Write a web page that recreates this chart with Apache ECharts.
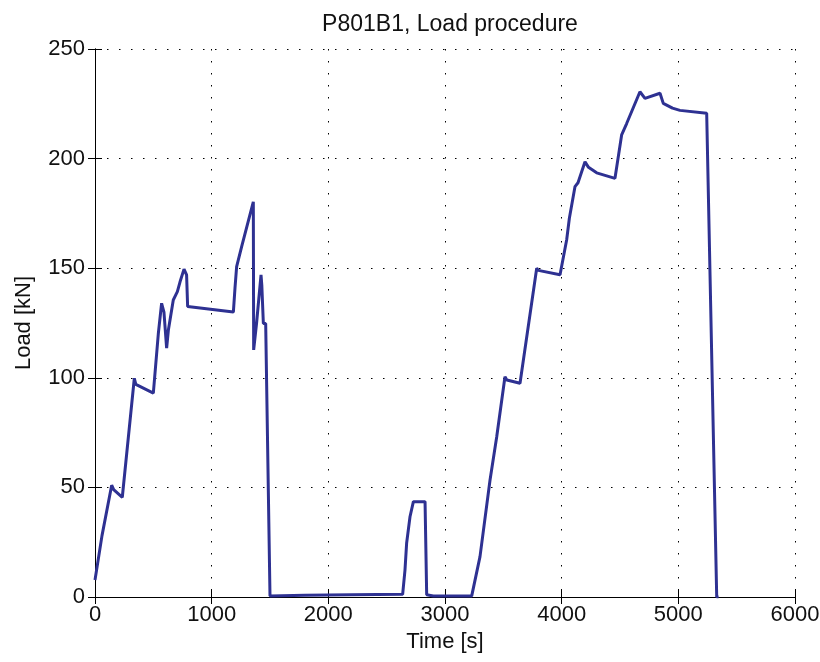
<!DOCTYPE html>
<html>
<head>
<meta charset="utf-8">
<title>P801B1, Load procedure</title>
<script src="https://cdn.jsdelivr.net/npm/echarts@6/dist/echarts.min.js"></script>
<style>
  html, body { margin: 0; padding: 0; background: #fff; }
  #main { width: 820px; height: 662px; }
</style>
</head>
<body>
<div id="main"></div>
<script>
// time [s] and load [kN]
var timeSec = [
  0, 60, 143, 160, 234, 337, 350, 500, 543, 571, 591, 614, 629, 671, 706, 729, 763, 785, 794,
  1186, 1200, 1214, 1257, 1357, 1360, 1385, 1423, 1430, 1443, 1463, 1500,
  1800, 2200, 2637, 2657, 2671, 2700, 2729, 2829, 2843, 2900, 3229,
  3300, 3386, 3443, 3514, 3530, 3643, 3786, 3800, 3986, 4043, 4066, 4114, 4140, 4200,
  4230, 4300, 4457, 4514, 4557, 4671, 4714, 4843, 4871, 4950, 5014, 5243, 5329, 5345
];
var loadKN = [
  7.8, 28, 51, 49, 45.5, 99.8, 97, 93, 120.3, 134, 130, 113.5, 121.8, 135.5, 139.3, 143.8, 149.6, 147, 132.5,
  130, 141, 150.7, 159.8, 180.3, 112.7, 125, 147, 142, 124.8, 124.8, 0.5,
  0.8, 1, 1.2, 12.3, 24.5, 36.6, 43.5, 43.5, 1, 0.5, 0.5,
  18.4, 53.4, 73, 100.5, 99, 97.5, 150, 149, 147, 163, 172.8, 187.2, 189, 198.6,
  196, 193.5, 191, 210.8, 216, 230.5, 227.5, 229.8, 225.2, 223, 222, 220.7, 0, 0
];
var xTicks = { min: 0, max: 6000, interval: 1000 };
var yTicks = { min: 0, max: 250, interval: 50 };

var points = timeSec.map(function (t, i) { return [t, loadKN[i]]; });

var font = 'Liberation Sans, Arial, Helvetica, sans-serif';
var gridLine = { show: true, lineStyle: { color: '#000', width: 1, type: [1.5, 10.5] } };
var plain = function (v) { return String(v); };

var chart = echarts.init(document.getElementById('main'), null, { renderer: 'canvas' });
chart.setOption({
  animation: false,
  backgroundColor: '#fff',
  title: {
    text: 'P801B1, Load procedure',
    left: 445,
    top: 8,
    textAlign: 'center',
    textStyle: { fontFamily: font, fontSize: 23, fontWeight: 'normal', color: '#111' }
  },
  grid: { left: 95, right: 25, top: 49, bottom: 65, containLabel: false, outerBoundsMode: 'none' },
  xAxis: [{
    type: 'value', min: xTicks.min, max: xTicks.max, interval: xTicks.interval,
    name: 'Time [s]', nameLocation: 'middle', nameGap: 34,
    nameTextStyle: { fontFamily: font, fontSize: 22, color: '#111' },
    axisLine: { lineStyle: { color: '#000', width: 1 } },
    axisTick: { inside: true, length: 7, lineStyle: { color: '#000' } },
    axisLabel: { fontFamily: font, fontSize: 22, color: '#111', margin: 7, formatter: plain },
    splitLine: gridLine
  }, {
    type: 'value', position: 'top', min: xTicks.min, max: xTicks.max, interval: xTicks.interval,
    axisLine: { show: true, lineStyle: { color: '#000', width: 1 } },
    axisTick: { inside: true, length: 7, lineStyle: { color: '#000' } },
    axisLabel: { show: false }, splitLine: { show: false }
  }],
  yAxis: [{
    type: 'value', min: yTicks.min, max: yTicks.max, interval: yTicks.interval,
    name: 'Load [kN]', nameLocation: 'middle', nameGap: 60,
    nameTextStyle: { fontFamily: font, fontSize: 22, color: '#111' },
    axisLine: { show: true, lineStyle: { color: '#000', width: 1 } },
    axisTick: { show: true, inside: true, length: 7, lineStyle: { color: '#000' } },
    axisLabel: { fontFamily: font, fontSize: 22, color: '#111', margin: 10, formatter: plain },
    splitLine: gridLine
  }, {
    type: 'value', position: 'right', min: yTicks.min, max: yTicks.max, interval: yTicks.interval,
    axisLine: { show: true, lineStyle: { color: '#000', width: 1 } },
    axisTick: { show: true, inside: true, length: 7, lineStyle: { color: '#000' } },
    axisLabel: { show: false }, splitLine: { show: false }
  }],
  series: [{
    type: 'line',
    xAxisIndex: 0, yAxisIndex: 0,
    data: points,
    showSymbol: false,
    symbol: 'none',
    lineStyle: { color: '#2e3192', width: 3 },
    z: 3
  }]
});
</script>
</body>
</html>
